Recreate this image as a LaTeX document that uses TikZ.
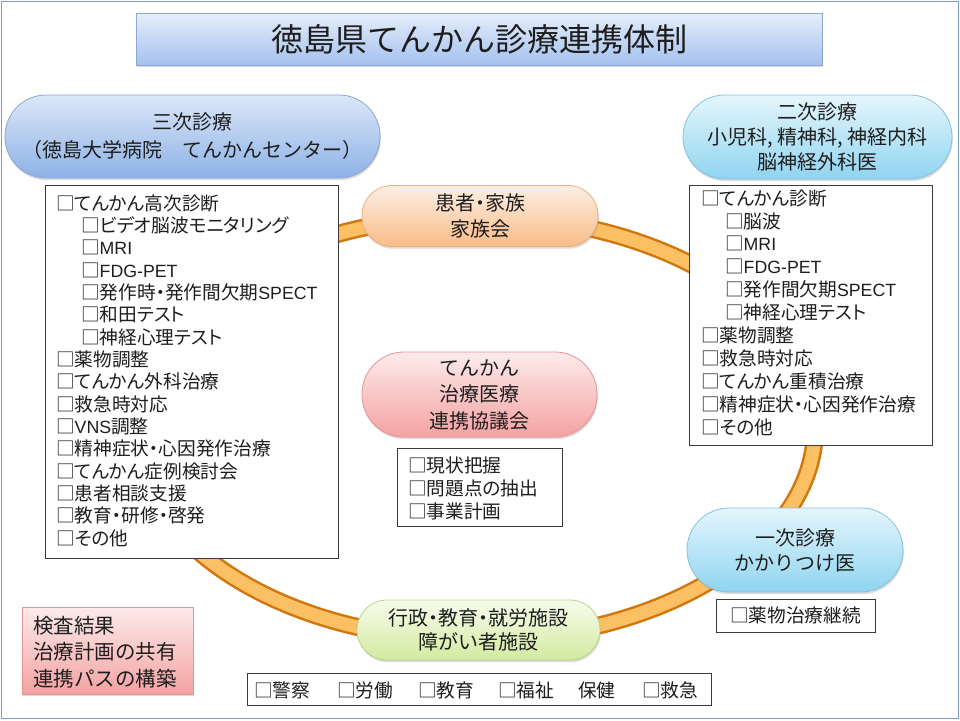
\documentclass[tikz,border=0pt]{standalone}
\usepackage{fontspec}
\setmainfont{Noto Sans CJK JP}
\newfontfamily\pfont[RawFeature=+palt]{Noto Sans CJK JP}
\newfontfamily\latfont[Scale=0.95]{Liberation Sans}
\usetikzlibrary{shadows}
\definecolor{framecol}{HTML}{7C9CC0}
\definecolor{ringlight}{HTML}{FBC064}
\definecolor{ringdark}{HTML}{D2760E}
\definecolor{titletop}{HTML}{E6EEFB}
\definecolor{titlebot}{HTML}{A4C1EE}
\definecolor{titleedge}{HTML}{8EA8D6}
\definecolor{bluetop}{HTML}{DCE7F8}
\definecolor{bluebot}{HTML}{8DB2E6}
\definecolor{blueedge}{HTML}{8AA7D4}
\definecolor{cyantop}{HTML}{E4F6FC}
\definecolor{cyanbot}{HTML}{90D4F0}
\definecolor{cyanedge}{HTML}{86C2DC}
\definecolor{orangetop}{HTML}{FDEFE4}
\definecolor{orangebot}{HTML}{F9BC88}
\definecolor{orangeedge}{HTML}{EDAC7C}
\definecolor{pinktop}{HTML}{FDEBEB}
\definecolor{pinkbot}{HTML}{F4A2A2}
\definecolor{pinkedge}{HTML}{E29494}
\definecolor{greentop}{HTML}{F8FBEC}
\definecolor{greenbot}{HTML}{D2EBA0}
\definecolor{greenedge}{HTML}{B6D586}
\definecolor{boxedge}{HTML}{3A3A3A}
\definecolor{txt}{HTML}{1E1E1E}
\newcommand\dt{{\pfont ・}}
\begin{document}
\begin{tikzpicture}[x=1pt,y=-1pt,
  every node/.style={text=txt, inner sep=0pt, outer sep=0pt},
  shade/.style={drop shadow={opacity=0.28, shadow xshift=0.8pt, shadow yshift=-2.2pt}},
  pill/.style={rectangle, rounded corners=#1, line width=0.8pt, align=center, shade},
  listbox/.style={rectangle, draw=boxedge, fill=white, line width=0.9pt},
  listtext/.style={align=left, anchor=west, font=\pfont\fontsize{18.67}{#1}\selectfont},
  pilltext/.style={font=\fontsize{20}{#1}\selectfont},
]
\useasboundingbox (0,0) rectangle (960,720);
\fill[white] (0,0) rectangle (960,720);
\draw[framecol, line width=1.6pt] (1.5,1.5) rectangle (958.5,718.5);

% title
\node[rectangle, draw=titleedge, line width=0.8pt, top color=titletop, bottom color=titlebot,
      minimum width=686pt, minimum height=52pt, shade,
      font=\fontsize{32}{36}\selectfont] (title) at (479,39) {徳島県てんかん診療連携体制};

% ring
\draw[ringdark, line width=18pt] (475,428) ellipse [x radius=340, y radius=212];
\draw[ringlight, line width=13pt] (475,428) ellipse [x radius=340, y radius=212];

% tertiary
\node[pill=41pt, draw=blueedge, top color=bluetop, bottom color=bluebot,
      minimum width=375pt, minimum height=83pt, pilltext=28] (san) at (192.5,136.5)
      {三次診療\\（徳島大学病院　てんかんセンター）};
\node[listbox, minimum width=293pt, minimum height=373pt] (lbox) at (191.5,371.5) {};
\node[listtext=22.33] (ltext) at (56,370.5) {□てんかん高次診断\\
\hspace*{25pt}□ビデオ脳波モニタリング\\
\hspace*{25pt}□{\latfont MRI}\\
\hspace*{25pt}□{\latfont FDG-PET}\\
\hspace*{25pt}□発作時・発作間欠期{\latfont SPECT}\\
\hspace*{25pt}□和田テスト\\
\hspace*{25pt}□神経心理テスト\\
□薬物調整\\
□てんかん外科治療\\
□救急時対応\\
□{\latfont VNS}調整\\
□精神症状・心因発作治療\\
□てんかん症例検討会\\
□患者相談支援\\
□教育・研修・啓発\\
□その他};

% secondary
\node[pill=42pt, draw=cyanedge, top color=cyantop, bottom color=cyanbot,
      minimum width=269pt, minimum height=84pt, pilltext=25] (ni) at (817.5,137)
      {二次診療\\小児科, 精神科, 神経内科\\脳神経外科医};
\node[listbox, minimum width=243pt, minimum height=260pt] (rbox) at (810.5,315) {};
\node[listtext=22.9] (rtext) at (701,312.5) {□てんかん診断\\
\hspace*{24pt}□脳波\\
\hspace*{24pt}□{\latfont MRI}\\
\hspace*{24pt}□{\latfont FDG-PET}\\
\hspace*{24pt}□発作間欠期{\latfont SPECT}\\
\hspace*{24pt}□神経心理テスト\\
□薬物調整\\
□救急時対応\\
□てんかん重積治療\\
□精神症状・心因発作治療\\
□その他};

% patients
\node[pill=30pt, draw=orangeedge, top color=orangetop, bottom color=orangebot,
      minimum width=236pt, minimum height=61pt, pilltext=26] (kanja) at (480,216)
      {患者\dt 家族\\家族会};

% council
\node[pill=42pt, draw=pinkedge, top color=pinktop, bottom color=pinkbot,
      minimum width=235pt, minimum height=85pt, pilltext=26.5] (kyogi) at (479.5,394.5)
      {てんかん\\治療医療\\連携協議会};
\node[listbox, minimum width=165pt, minimum height=78pt] (cbox) at (479.5,487) {};
\node[listtext=23] (ctext) at (408,488) {□現状把握\\□問題点の抽出\\□事業計画};

% primary
\node[pill=42pt, draw=cyanedge, top color=cyantop, bottom color=cyanbot,
      minimum width=216pt, minimum height=84pt, pilltext=25] (ichi) at (795,550)
      {一次診療\\かかりつけ医};
\node[listbox, minimum width=159pt, minimum height=33pt, font=\fontsize{18.67}{21}\selectfont] (pbox) at (795.5,615.5) {□薬物治療継続};

% administration
\node[pill=30pt, draw=greenedge, top color=greentop, bottom color=greenbot,
      minimum width=243pt, minimum height=60pt, pilltext=24] (gyosei) at (478.5,630)
      {行政\dt 教育\dt 就労施設\\障がい者施設};
\node[listbox, minimum width=464pt, minimum height=32pt] (bbox) at (479,689) {};
\node[listtext=21] (b1) at (254,690) {□警察};
\node[listtext=21] (b2) at (337,690) {□労働};
\node[listtext=21] (b3) at (418,690) {□教育};
\node[listtext=21] (b4) at (498,690) {□福祉};
\node[listtext=21] (b5) at (578,690) {保健};
\node[listtext=21] (b6) at (642,690) {□救急};

% results sharing
\node[rectangle, draw=pinkedge, line width=0.8pt, top color=pinktop, bottom color=pinkbot,
      minimum width=171pt, minimum height=87pt, shade] (kensa) at (107.5,650.5) {};
\node[align=left, anchor=west, font=\fontsize{20.5}{26.5}\selectfont] (ktext) at (33,652)
      {検査結果\\治療計画の共有\\連携パスの構築};
\end{tikzpicture}
\end{document}
